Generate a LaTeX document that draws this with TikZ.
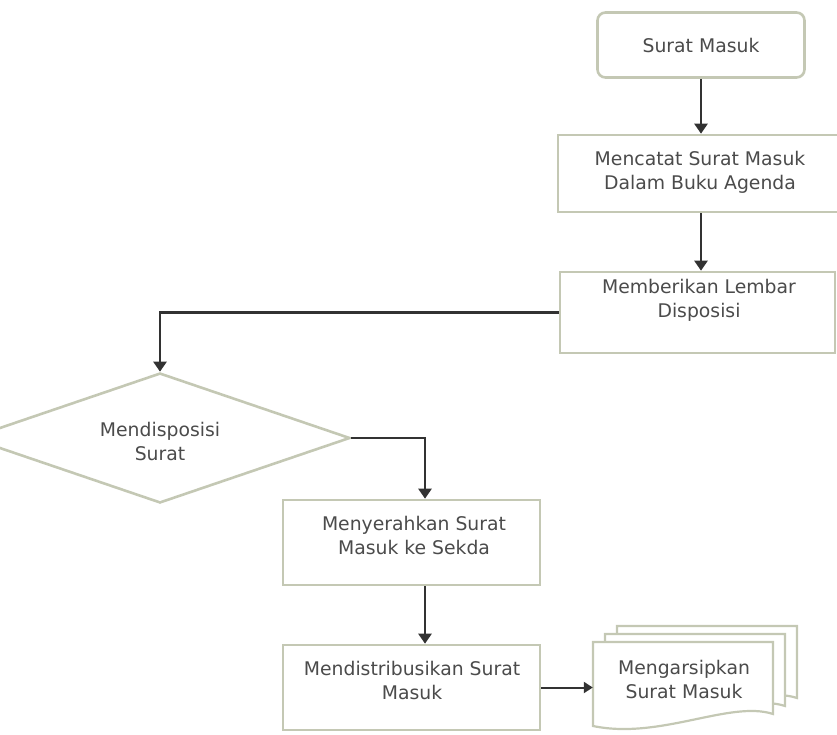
\documentclass[tikz,border=0pt]{standalone}
\usepackage{fontspec}
\setmainfont{DejaVu Sans}
\usetikzlibrary{shapes.geometric,arrows.meta}
\definecolor{bordc}{RGB}{196,200,180}
\definecolor{txtc}{RGB}{75,75,75}
\definecolor{arrc}{RGB}{50,50,50}
\begin{document}
\begin{tikzpicture}[x=1pt,y=-1pt,
  box/.style={draw=bordc, line width=2.6pt, fill=white, inner sep=0pt},
  lbl/.style={text=txtc, font=\fontsize{18.8}{24}\selectfont, align=center, inner sep=0pt},
  flow/.style={draw=arrc, line width=2.8pt, -{Triangle[width=13pt,length=10pt]}},
  thinflow/.style={draw=arrc, line width=2pt, -{Triangle[width=11pt,length=9pt]}},
  docpath/.style={draw=bordc, line width=2.2pt, fill=white}
]
\useasboundingbox (0,0) rectangle (837,735);
% boxes
\node[box, rounded corners=8pt, minimum width=207pt, minimum height=65pt] (sm) at (701,45) {};
\node[lbl] (smt) at (701,45) {Surat Masuk};
\node[box, minimum width=280pt, minimum height=77pt] (a1) at (698,173.5) {};
\node[lbl] (a1t) at (700,172) {Mencatat Surat Masuk\\Dalam Buku Agenda};
\node[box, minimum width=275pt, minimum height=81pt] (a2) at (697.5,312.5) {};
\node[lbl] (a2t) at (699,300) {Memberikan Lembar\\Disposisi};
\node[box, shape=diamond, minimum width=380pt, minimum height=130pt] (d) at (160,438) {};
\node[lbl] (dt) at (160,441) {Mendisposisi\\Surat};
\node[box, minimum width=257pt, minimum height=85pt] (b4) at (411.5,542.5) {};
\node[lbl] (b4t) at (414,535) {Menyerahkan Surat\\Masuk ke Sekda};
\node[box, minimum width=257pt, minimum height=85pt] (b5) at (411.5,687.5) {};
\node[lbl] (b5t) at (412,680) {Mendistribusikan Surat\\Masuk};
% multi-document
\foreach \dx/\dy in {24/-16,12/-8,0/0}{
  \path[docpath] (593+\dx,642+\dy) -- (773+\dx,642+\dy) -- (773+\dx,714+\dy)
    .. controls (730+\dx,700+\dy) and (660+\dx,740+\dy) .. (593+\dx,726+\dy) -- cycle;
}
\node[inner sep=0pt, minimum width=180pt, minimum height=84pt] (doc) at (683,684) {};
\node[lbl] (doct) at (684,679) {Mengarsipkan\\Surat Masuk};
% connectors
\draw[flow] (sm.south) -- (sm.south |- a1.north);
\draw[flow] (a1.south -| sm.south) -- (sm.south |- a2.north);
\draw[flow] (a2.west) -| (d.north);
\coordinate (b4in) at ([xshift=13.5pt]b4.north);
\draw[flow] (d.east) -| (b4in);
\draw[flow] (b4.south -| b4in) -- (b4in |- b5.north);
\draw[thinflow] (b5.east) -- (b5.east -| doc.west);
\end{tikzpicture}
\end{document}
